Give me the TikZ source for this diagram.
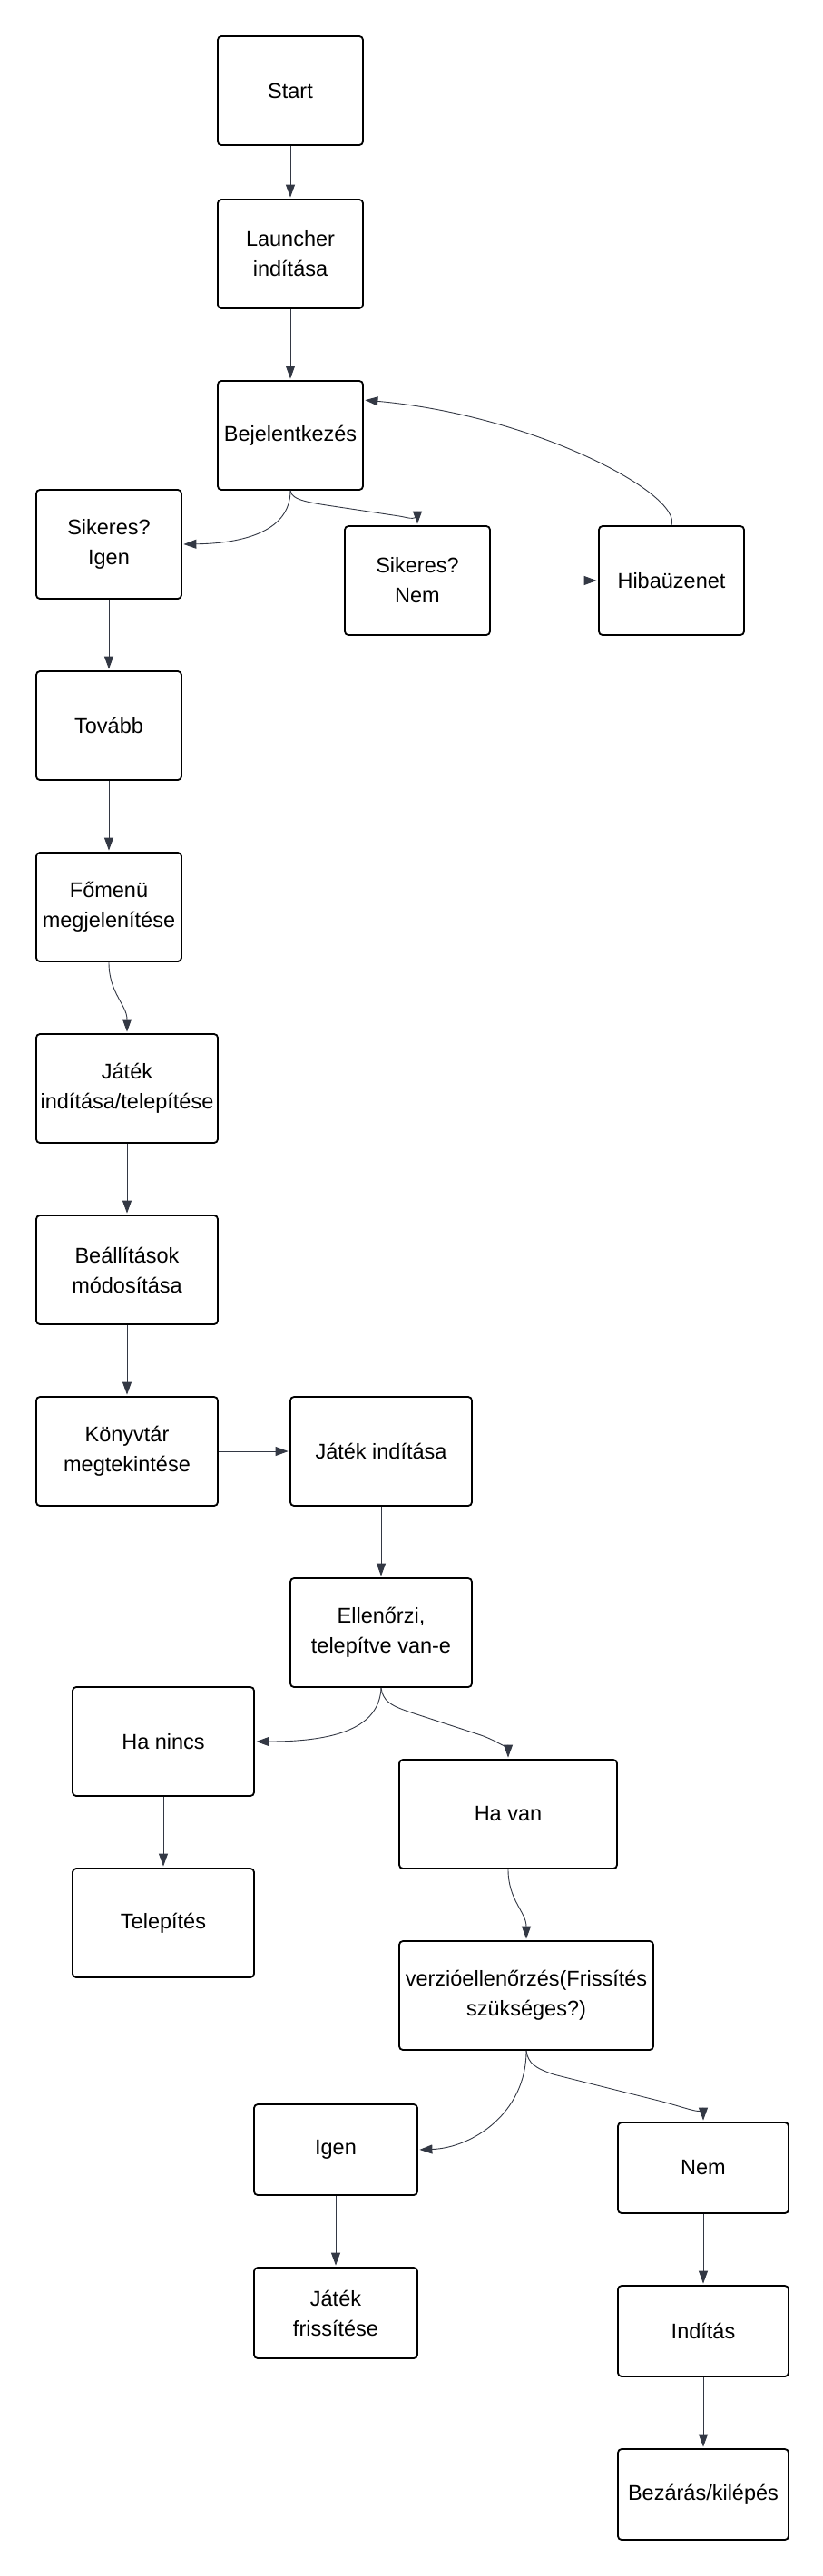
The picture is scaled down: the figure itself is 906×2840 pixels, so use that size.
\documentclass[tikz,border=0pt]{standalone}
\usepackage{fontspec}
\setmainfont{Liberation Sans}
\usetikzlibrary{arrows.meta}
\definecolor{edgec}{HTML}{333844}
\begin{document}
\begin{tikzpicture}[x=1pt,y=-1pt,
  box/.style={draw=black, line width=1.8pt, rounded corners=4pt, fill=white,
    align=center, inner sep=0pt, font=\fontsize{23.5}{33}\selectfont},
  flow/.style={draw=edgec, line width=0.9pt, shorten >=1.5pt, -{Triangle[length=14pt,width=10pt]}}]
\useasboundingbox (0,0) rectangle (906,2840);
\fill[white] (0,0) rectangle (906,2840);

\node[box, minimum width=160pt, minimum height=120pt] (start) at (320,100) {Start};
\node[box, minimum width=160pt, minimum height=120pt] (launch) at (320,280) {Launcher\\indítása};
\node[box, minimum width=160pt, minimum height=120pt] (login) at (320,480) {Bejelentkezés};
\node[box, minimum width=160pt, minimum height=120pt] (igen1) at (120,600) {Sikeres?\\Igen};
\node[box, minimum width=160pt, minimum height=120pt] (nem1) at (460,640) {Sikeres?\\Nem};
\node[box, minimum width=160pt, minimum height=120pt] (hiba) at (740,640) {Hibaüzenet};
\node[box, minimum width=160pt, minimum height=120pt] (tovabb) at (120,800) {Tovább};
\node[box, minimum width=160pt, minimum height=120pt] (fomenu) at (120,1000) {Főmenü\\megjelenítése};
\node[box, minimum width=200pt, minimum height=120pt] (jit) at (140,1200) {Játék\\indítása/telepítése};
\node[box, minimum width=200pt, minimum height=120pt] (beall) at (140,1400) {Beállítások\\módosítása};
\node[box, minimum width=200pt, minimum height=120pt] (konyv) at (140,1600) {Könyvtár\\megtekintése};
\node[box, minimum width=200pt, minimum height=120pt] (jind) at (420,1600) {Játék indítása};
\node[box, minimum width=200pt, minimum height=120pt] (ell) at (420,1800) {Ellenőrzi,\\telepítve van-e};
\node[box, minimum width=200pt, minimum height=120pt] (hanincs) at (180,1920) {Ha nincs};
\node[box, minimum width=240pt, minimum height=120pt] (havan) at (560,2000) {Ha van};
\node[box, minimum width=200pt, minimum height=120pt] (telep) at (180,2120) {Telepítés};
\node[box, minimum width=280pt, minimum height=120pt] (verz) at (580,2200) {verzióellenőrzés(Frissítés\\szükséges?)};
\node[box, minimum width=180pt, minimum height=100pt] (igen2) at (370,2370) {Igen};
\node[box, minimum width=188pt, minimum height=100pt] (nem2) at (775,2390) {Nem};
\node[box, minimum width=180pt, minimum height=100pt] (frissit) at (370,2550) {Játék\\frissítése};
\node[box, minimum width=188pt, minimum height=100pt] (inditas) at (775,2570) {Indítás};
\node[box, minimum width=188pt, minimum height=100pt] (bezaras) at (775,2750) {Bezárás/kilépés};

\draw[flow] (start) -- (launch);
\draw[flow] (launch) -- (login);
\draw[flow] (login.south) .. controls (320,585) and (270,599) .. (igen1.east);
\draw[flow] (login.south) .. controls (322,552) and (340,554) .. (380,560) -- (440,569) .. controls (452,571) and (460,575) .. (nem1.north);
\draw[flow] (nem1) -- (hiba);
\draw[flow] (hiba.north) .. controls (752,545) and (590,458) .. (login.north east |- 0,441);
\draw[flow] (igen1) -- (tovabb);
\draw[flow] (tovabb) -- (fomenu);
\draw[flow] (fomenu.south) .. controls (120,1095) and (140,1108) .. (jit.north);
\draw[flow] (jit) -- (beall);
\draw[flow] (beall) -- (konyv);
\draw[flow] (konyv) -- (jind);
\draw[flow] (jind) -- (ell);
\draw[flow] (ell.south) .. controls (418,1905) and (370,1920) .. (hanincs.east);
\draw[flow] (ell.south) .. controls (422,1875) and (430,1880) .. (450,1887) -- (530,1913) .. controls (550,1920) and (560,1930) .. (havan.north);
\draw[flow] (hanincs) -- (telep);
\draw[flow] (havan.south) .. controls (560,2095) and (580,2108) .. (verz.north);
\draw[flow] (verz.south) .. controls (580,2330) and (520,2368) .. (igen2.east);
\draw[flow] (verz.south) .. controls (582,2275) and (590,2280) .. (610,2287) -- (730,2317) .. controls (760,2325) and (775,2332) .. (nem2.north);
\draw[flow] (igen2) -- (frissit);
\draw[flow] (nem2) -- (inditas);
\draw[flow] (inditas) -- (bezaras);
\end{tikzpicture}
\end{document}
